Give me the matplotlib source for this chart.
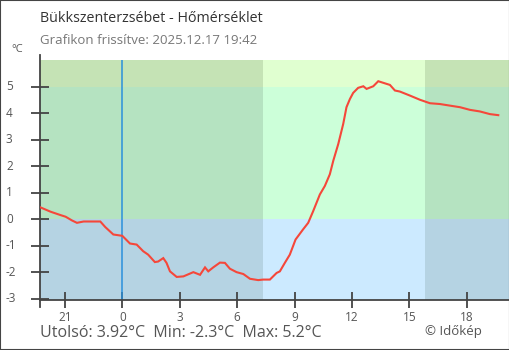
import matplotlib
matplotlib.use('Agg')
import matplotlib.pyplot as plt
from matplotlib.patches import Rectangle

# hours relative to midnight (negative = previous evening)
hours = [-4.30, -3.75, -3.22, -2.96, -2.63, -2.37, -2.02, -1.15, -0.89, -0.47,
         0.00, 0.40, 0.75, 1.09, 1.35, 1.70, 1.87, 2.14, 2.31, 2.49, 2.84,
         3.19, 3.71, 4.06, 4.32, 4.49, 4.75, 5.10, 5.36, 5.62, 5.97, 6.32,
         6.67, 7.10, 7.36, 7.71, 8.06, 8.23, 8.49, 8.75, 9.05, 9.44, 9.71,
         9.97, 10.32, 10.58, 10.84, 11.02, 11.28, 11.54, 11.71, 11.89, 12.06,
         12.32, 12.59, 12.76, 13.11, 13.37, 13.63, 13.98, 14.24, 14.50, 15.02,
         15.55, 16.07, 16.59, 17.11, 17.64, 18.16, 18.68, 19.20, 19.64]
temps = [0.45, 0.28, 0.15, 0.09, -0.05, -0.14, -0.09, -0.09, -0.30, -0.58,
         -0.63, -0.92, -0.96, -1.21, -1.34, -1.62, -1.60, -1.47, -1.65, -1.97,
         -2.18, -2.16, -2.00, -2.10, -1.82, -1.97, -1.82, -1.64, -1.65, -1.87,
         -2.00, -2.07, -2.25, -2.30, -2.28, -2.28, -2.03, -1.97, -1.65, -1.34,
         -0.77, -0.39, -0.14, 0.30, 0.93, 1.25, 1.69, 2.20, 2.83, 3.59, 4.22,
         4.53, 4.76, 4.95, 5.01, 4.91, 5.01, 5.20, 5.14, 5.06, 4.85, 4.81,
         4.66, 4.50, 4.37, 4.34, 4.28, 4.22, 4.12, 4.06, 3.96, 3.92]

x_ticks = [-3, 0, 3, 6, 9, 12, 15, 18]
x_labels = ['21', '0', '3', '6', '9', '12', '15', '18']
y_ticks = [-3, -2, -1, 0, 1, 2, 3, 4, 5]

sunrise, sunset = 7.35, 15.81
x_min, x_max = -4.30, 20.2
y_min, y_max = -3.05, 6.0

night = {'hi': '#c5e3b5', 'mid': '#b5e3c1', 'lo': '#b5d3e3'}
day = {'hi': '#e0ffd0', 'mid': '#ccffd9', 'lo': '#cceaff'}
grey = '#444444'
txt = '#555555'

plt.rcParams['font.family'] = ['Open Sans', 'DejaVu Sans']

fig = plt.figure(figsize=(5.1, 3.5), dpi=100, facecolor='white')
ax = fig.add_axes([40 / 510, 50 / 350, 469 / 510, 240 / 350])
ax.set_xlim(x_min, x_max)
ax.set_ylim(y_min, y_max)

# day / night and temperature bands
def bands(x0, x1, pal):
    for y0, y1, key in [(y_min, 0, 'lo'), (0, 5, 'mid'), (5, y_max, 'hi')]:
        ax.add_patch(Rectangle((x0, y0), x1 - x0, y1 - y0, facecolor=pal[key],
                               edgecolor='none', zorder=0))

bands(x_min, sunrise, night)
bands(sunrise, sunset, day)
bands(sunset, x_max, night)

ax.axvline(0, color='#2a90dc', lw=1.1, zorder=2)
ax.plot(hours, temps, color='#f5473a', lw=1.5, zorder=3, solid_joinstyle='miter')

for s in ['top', 'right']:
    ax.spines[s].set_visible(False)
for s in ['left', 'bottom']:
    ax.spines[s].set_color(grey)
    ax.spines[s].set_linewidth(1.3)
ax.spines['left'].set_bounds(y_min - 0.25, y_max + 0.19)

ax.set_xticks(x_ticks)
ax.set_xticklabels(x_labels)
ax.set_yticks(y_ticks)
ax.set_yticklabels([])
ax.tick_params(axis='x', direction='inout', length=12, width=1.3, color=grey,
               labelsize=8.5, labelcolor=txt, pad=2)
ax.tick_params(axis='y', direction='inout', length=13, width=1.3, color=grey)
ytf = ax.get_yaxis_transform()
for v in y_ticks:
    ax.text(-34 / 469, v, str(v), transform=ytf, ha='left', va='center',
            fontsize=8.5, color=txt)

fig.text(40 / 510, 1 - 18 / 350, 'Bükkszenterzsébet - Hőmérséklet', fontsize=10.3,
         color='#333333', va='center')
fig.text(40 / 510, 1 - 41 / 350, 'Grafikon frissítve: 2025.12.17 19:42', fontsize=9.5,
         color='#777777', va='center')
fig.text(11 / 510, 1 - 50 / 350, '°C', fontsize=8, color=txt, va='center')
fig.text(40 / 510, 1 - 333 / 350, 'Utolsó: 3.92°C  Min: -2.3°C  Max: 5.2°C',
         fontsize=11.5, color=txt, va='center')
fig.text(482 / 510, 1 - 331 / 350, '© Időkép', fontsize=9.5, color=txt,
         va='center', ha='right')

fig.add_artist(Rectangle((0, 0), 1, 1, transform=fig.transFigure, fill=False,
                         edgecolor='#444444', lw=1.5))

fig.savefig('out.png', dpi=100, facecolor='white')
